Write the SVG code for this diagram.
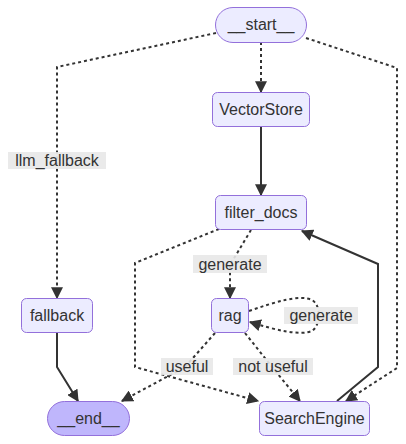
<svg xmlns="http://www.w3.org/2000/svg" width="406" height="444" viewBox="0 0 406 444">
<style>
.node rect{fill:#ECECFF;stroke:#9370DB;stroke-width:1}
.node.end rect{fill:#BFB6FC}
text{font-family:"Liberation Sans",Arial,sans-serif;font-size:16px;fill:#333;text-anchor:middle}
.e{fill:none;stroke:#333;stroke-width:2}
.d{stroke-dasharray:3 3}
.lbl rect{fill:#e8e8e8;opacity:0.9}
</style>
<defs>
<marker id="ah" markerUnits="userSpaceOnUse" viewBox="0 0 10 10" markerWidth="12" markerHeight="12" refX="9" refY="5" orient="auto">
<path d="M0,0 L10,5 L0,10 z" fill="#333"/>
</marker>
</defs>
<rect width="406" height="444" fill="#fff"/>
<g id="edges">
<path class="e d" d="M261,42 L261,92" marker-end="url(#ah)"/>
<path class="e d" d="M216,33 L57,67 L57,298" marker-end="url(#ah)"/>
<path class="e d" d="M306,38 L397,68 L397,368 L346,401" marker-end="url(#ah)"/>
<path class="e" d="M261,127 L261,195" marker-end="url(#ah)"/>
<path class="e d" d="M251,230 L230,265 L230,298" marker-end="url(#ah)"/>
<path class="e d" d="M219,229 L135,263 L135,367 L258,401" marker-end="url(#ah)"/>
<path class="e" d="M337,401 L378,367 L378,264 L302,231" marker-end="url(#ah)"/>
<path class="e d" d="M249,311 C275,302 300,294 312,300 C322,306 320,326 312,331 C300,336 275,330 250,322" marker-end="url(#ah)"/>
<path class="e d" d="M215,333 L185,367 L122,401" marker-end="url(#ah)"/>
<path class="e d" d="M245,333 L272,367 L300,401" marker-end="url(#ah)"/>
<path class="e" d="M57,333 L57,367 L78,401" marker-end="url(#ah)"/>
<g class="lbl"><rect x="8" y="152" width="98" height="17"/><text x="57" y="166">llm_fallback</text></g>
<g class="lbl"><rect x="193" y="255" width="74" height="18"/><text x="230" y="270">generate</text></g>
<g class="lbl"><rect x="284" y="307" width="74" height="17"/><text x="321" y="321">generate</text></g>
<g class="lbl"><rect x="161" y="358" width="52" height="17"/><text x="187" y="372">useful</text></g>
<g class="lbl"><rect x="233" y="358" width="80" height="17"/><text x="273" y="372">not useful</text></g>
</g>
<g id="start" class="node"><rect x="215.5" y="7.5" width="91" height="35" rx="17.5"/><text x="261" y="30">__start__</text></g>
<g id="VectorStore" class="node"><rect x="212.5" y="92.5" width="97" height="34" rx="5"/><text x="261" y="115">VectorStore</text></g>
<g id="filter_docs" class="node"><rect x="215.5" y="195.5" width="91" height="34" rx="5"/><text x="261" y="218">filter_docs</text></g>
<g id="fallback" class="node"><rect x="21.5" y="298.5" width="71" height="34" rx="5"/><text x="57" y="321">fallback</text></g>
<g id="rag" class="node"><rect x="211.5" y="298.5" width="37" height="34" rx="5"/><text x="230" y="321">rag</text></g>
<g id="end" class="node end"><rect x="47.5" y="401.5" width="82" height="34" rx="17"/><text x="88.5" y="424">__end__</text></g>
<g id="SearchEngine" class="node"><rect x="259.5" y="401.5" width="110" height="34" rx="5"/><text x="314.5" y="424">SearchEngine</text></g>
</svg>
